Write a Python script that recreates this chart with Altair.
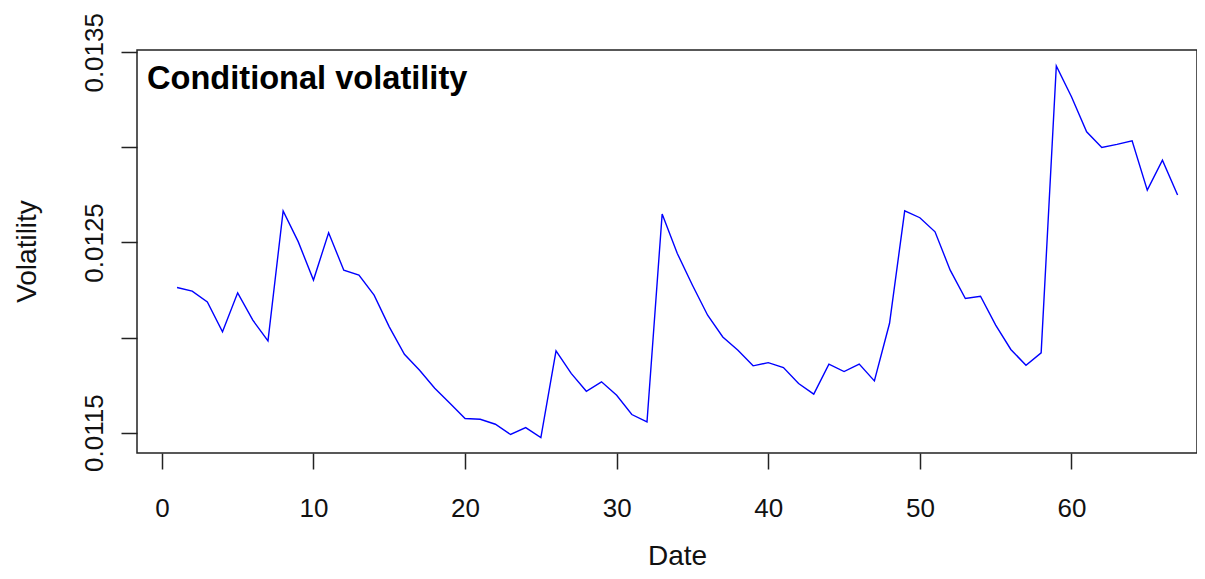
import altair as alt
import pandas as pd

dates = list(range(1, 68))
volatility = [
    0.012263, 0.012244, 0.012187, 0.012030, 0.012235, 0.012091, 0.011982, 0.012666,
    0.012503, 0.012302, 0.012551, 0.012354, 0.012328, 0.012223, 0.012056, 0.011912,
    0.011828, 0.011733, 0.011654, 0.011574, 0.011570, 0.011544, 0.011490, 0.011526,
    0.011474, 0.011930, 0.011811, 0.011717, 0.011767, 0.011696, 0.011595, 0.011556,
    0.012649, 0.012442, 0.012275, 0.012117, 0.012003, 0.011933, 0.011851, 0.011868,
    0.011842, 0.011758, 0.011702, 0.011860, 0.011821, 0.011860, 0.011772, 0.012075,
    0.012666, 0.012630, 0.012556, 0.012354, 0.012205, 0.012217, 0.012065, 0.011937,
    0.011854, 0.011919, 0.013428, 0.013266, 0.013082, 0.013000, 0.013016, 0.013035,
    0.012775, 0.012933, 0.012749,
]
x_ticks = [0, 10, 20, 30, 40, 50, 60]
y_ticks = [0.0115, 0.012, 0.0125, 0.013, 0.0135]
y_labeled = ["0.0115", "0.0125", "0.0135"]
main_title = ["Conditional volatility"]

df = pd.DataFrame({"Date": dates, "Volatility": volatility})
FONT = "Liberation Sans"
INK = "#111111"

label_list = "[" + ",".join("'" + s + "'" for s in y_labeled) + "]"
y_label_expr = (
    f"indexof({label_list}, format(datum.value, '.4f')) >= 0 ? format(datum.value, '.4f') : ''"
)

line = alt.Chart(df).mark_line(color="#0000FF", strokeWidth=1.4).encode(
    x=alt.X(
        "Date:Q",
        scale=alt.Scale(domain=[-1.64, 68.28], nice=False, zero=False),
        axis=alt.Axis(
            values=x_ticks, title="Date", grid=False, domain=False,
            tickSize=16, tickWidth=1.5, tickColor="#222222",
            labelFont=FONT, labelFontSize=26, labelColor=INK, labelPadding=26,
            labelFlush=False, labelOverlap=False,
            titleFont=FONT, titleFontSize=28, titleFontWeight="normal", titleColor=INK,
            titleX=540, titleY=103, titleBaseline="middle", titleAlign="center",
        ),
    ),
    y=alt.Y(
        "Volatility:Q",
        scale=alt.Scale(domain=[0.0113926, 0.0135121], nice=False, zero=False),
        axis=alt.Axis(
            values=y_ticks, title="Volatility", grid=False, domain=False,
            tickSize=16, tickWidth=1.5, tickColor="#222222",
            labelFont=FONT, labelFontSize=26, labelColor=INK, labelPadding=19,
            labelAngle=270, labelAlign="center", labelBaseline="alphabetic",
            labelExpr=y_label_expr, labelOverlap=False, labelFlush=False,
            titleFont=FONT, titleFontSize=28, titleFontWeight="normal", titleColor=INK,
            titleX=-110, titleY=201, titleAngle=270, titleBaseline="middle", titleAlign="center",
        ),
    ),
)

title_df = pd.DataFrame({"t": main_title})
title = alt.Chart(title_df).mark_text(
    font=FONT, fontSize=32.6, fontWeight="bold", color="#000000",
    align="left", baseline="alphabetic",
).encode(text="t:N", x=alt.value(10), y=alt.value(39))

chart = alt.layer(line, title).properties(
    width=1060, height=403,
    padding={"left": 129, "top": 42, "right": 0, "bottom": 118},
    autosize="none",
    background="white",
).configure_view(stroke="#222222", strokeWidth=1.5)

chart.save("out.html", embed_options={"renderer": "svg", "actions": False})
